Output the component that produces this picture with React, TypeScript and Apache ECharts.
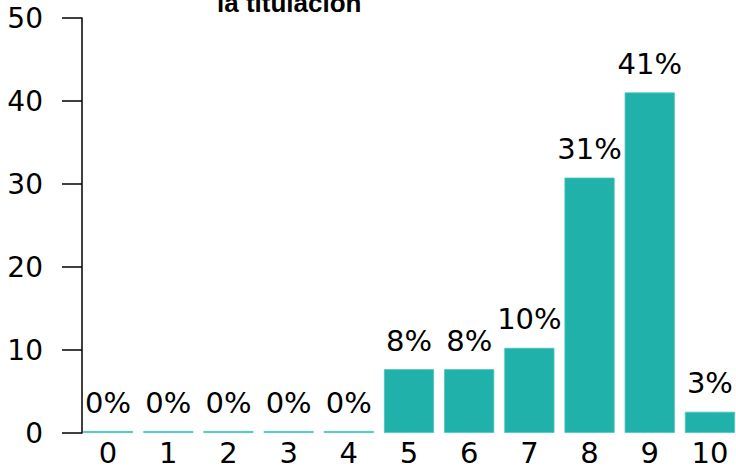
import React, { useEffect, useRef } from "react";
import * as echarts from "echarts";

const categories = ["0", "1", "2", "3", "4", "5", "6", "7", "8", "9", "10"];
const values = [0, 0, 0, 0, 0, 7.69, 7.69, 10.26, 30.77, 41.03, 2.56];
const yTicks = [0, 10, 20, 30, 40, 50];
const titleText = "la titulación";

export default function App() {
  const ref = useRef<HTMLDivElement>(null);
  useEffect(() => {
    document.body.style.margin = "0";
    const chart = echarts.init(ref.current!, undefined, { renderer: "svg" });
    const font = "'DejaVu Sans', 'Liberation Sans', sans-serif";
    const titleFont = "'Liberation Sans', Arial, sans-serif";
    chart.setOption({
      animation: false,
      backgroundColor: "#ffffff",
      textStyle: { fontFamily: font },
      grid: { left: 78, width: 662, top: 18, height: 415 },
      graphic: [
        {
          type: "text",
          left: 217,
          top: -10,
          style: {
            text: titleText,
            font: `bold 26px ${titleFont}`,
            fill: "#000",
          },
        },
      ],
      xAxis: {
        type: "category",
        data: categories,
        axisLine: { show: false },
        axisTick: { show: false },
        axisLabel: { color: "#000", fontSize: 29, margin: 5, fontFamily: font },
      },
      yAxis: {
        type: "value",
        min: yTicks[0],
        max: yTicks[yTicks.length - 1],
        interval: 10,
        offset: -4,
        splitLine: { show: false },
        axisLine: { show: true, lineStyle: { color: "#000", width: 1.5 } },
        axisTick: { show: true, length: 20, lineStyle: { color: "#000", width: 1.5 } },
        axisLabel: { color: "#000", fontSize: 28, margin: 39, fontFamily: font },
      },
      series: [
        {
          type: "bar",
          data: values,
          barCategoryGap: "16.7%",
          barMinHeight: 2,
          itemStyle: { color: "#20B2AA", borderColor: "#4cc4bd", borderWidth: 0.8 },
          label: {
            show: true,
            position: "top",
            distance: 14,
            color: "#000",
            fontSize: 29,
            fontFamily: font,
            formatter: (p: any) => Math.round(p.value) + "%",
          },
        },
      ],
    });
    return () => chart.dispose();
  }, []);
  return (
    <div style={{ position: "fixed", left: 0, top: 0, width: 736, height: 472, overflow: "hidden" }}>
      <div ref={ref} style={{ width: 760, height: 472 }} />
    </div>
  );
}
